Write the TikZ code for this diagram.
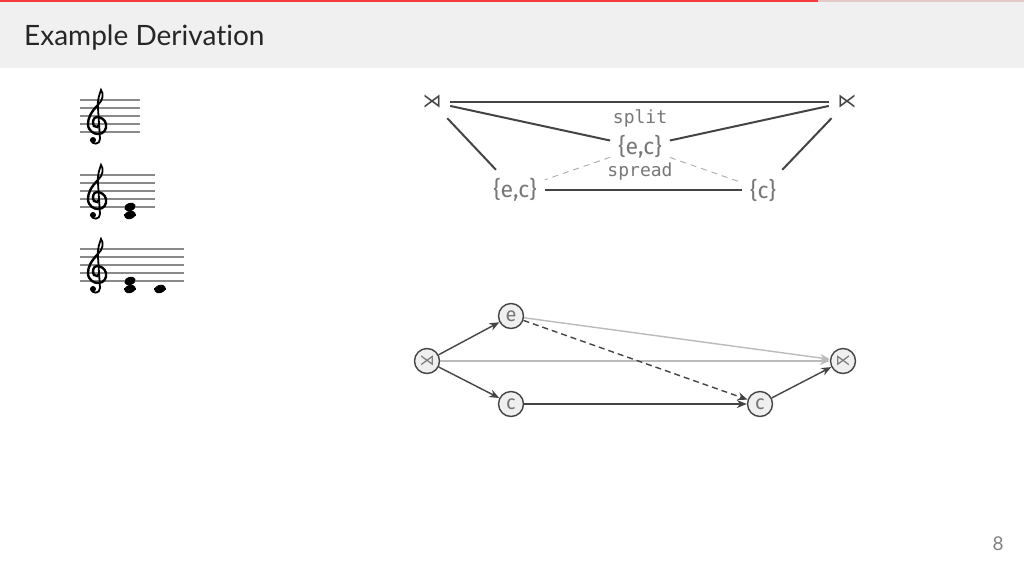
\documentclass[tikz,border=0pt]{standalone}
\usepackage{fontspec}
\setmainfont{Lato}[Ligatures={NoCommon,NoRare}]
\newfontfamily\fira{Fira Sans}
\newfontfamily\monof{DejaVu Sans Mono}
\newfontfamily\djv{DejaVu Sans}
\usetikzlibrary{arrows.meta}
\definecolor{hdrgray}{HTML}{F0F0F0}
\definecolor{hdrred}{HTML}{F53B3B}
\definecolor{hdrpink}{HTML}{E6CACA}
\definecolor{ink}{HTML}{444444}
\definecolor{txtgray}{HTML}{777777}
\definecolor{lightedge}{HTML}{BBBBBB}
\definecolor{dashgray}{HTML}{AAAAAA}
\definecolor{stafgray}{HTML}{8A8A8A}
\definecolor{nodefill}{HTML}{EFEFEF}
\tikzset{
  fs/.style={font=\fontsize{#1}{#1}\selectfont},
  setnode/.style={inner xsep=8pt, inner ysep=0pt, minimum height=40pt, text=txtgray, font=\fira\fontsize{23}{23}\selectfont},
  endnode/.style={inner sep=0pt, minimum width=36pt, minimum height=32pt, text=ink, font=\djv\fontsize{19}{19}\selectfont},
  opline/.style={draw=ink, line width=2pt},
  spline/.style={draw=dashgray, line width=0.9pt, dash pattern=on 6pt off 5pt},
  oplabel/.style={text=txtgray, font=\monof\fontsize{18}{18}\selectfont},
  gnode/.style={circle, draw=ink, fill=nodefill, line width=1.4pt, minimum size=25pt, inner sep=0pt, text=txtgray, font=\fira\fontsize{20}{20}\selectfont},
  gsym/.style={gnode, font=\djv\fontsize{15}{15}\selectfont},
  garrow/.style={draw=ink, line width=1.4pt, -{Stealth[length=10pt,width=8pt]}},
  glight/.style={draw=lightedge, line width=1.4pt, -{Stealth[length=10pt,width=8pt]}},
  gdash/.style={garrow, dash pattern=on 6pt off 4pt},
  staffline/.style={draw=stafgray, line width=1.3pt},
  notehead/.style={fill=black},
  clef/.pic={
    \fill[black] (-4,16) circle (3);
    \draw[black, line width=1.8pt, line cap=round]
      (-6,16) .. controls (-5,21) and (3,21) .. (3,15) -- (1,-16)
      .. controls (0,-24) and (3,-31) .. (4,-34)
      .. controls (7,-30) and (6,-24) .. (1,-19);
    \draw[black, line width=2.4pt, line cap=round]
      (1,-19) .. controls (-6,-12) and (-9,-6) .. (-9,0)
      .. controls (-9,7) and (-3,10) .. (1,10)
      .. controls (7,10) and (10,5) .. (9,0)
      .. controls (8,-5) and (3,-7) .. (0,-7)
      .. controls (-4,-7) and (-5,-1) .. (-3,2)
      .. controls (-1,4) and (2,3) .. (2,1);
  }
}
\begin{document}
\begin{tikzpicture}[x=1pt,y=-1pt]
\useasboundingbox (0,0) rectangle (1024,576);
% header
\fill[hdrgray] (0,0) rectangle (1024,68);
\fill[hdrred] (0,0) rectangle (818,2);
\fill[hdrpink] (818,0) rectangle (1024,2);
\node[anchor=base west, inner sep=0pt, text=black!85, fs=28] (title) at (24,45) {Example Derivation};
\node[anchor=base, inner sep=0pt, text=black!50, fs=19] (pagenum) at (998,550) {8};

% staves
\foreach \y in {100,108,116,124,132} \draw[staffline] (80,\y) -- (140,\y);
\pic at (97,124) {clef};
\foreach \y in {175,183,191,199,207} \draw[staffline] (80,\y) -- (155,\y);
\pic at (97,199) {clef};
\draw[black, line width=1.2pt] (124,215) -- (136,215);
\fill[notehead, rotate around={20:(130,207)}] (130,207) ellipse (5.8 and 4);
\fill[notehead, rotate around={20:(130,215)}] (130,215) ellipse (5.8 and 4);
\foreach \y in {249,257,265,273,281} \draw[staffline] (80,\y) -- (184,\y);
\pic at (97,273) {clef};
\draw[black, line width=1.2pt] (124,289) -- (136,289);
\draw[black, line width=1.2pt] (154,289) -- (166,289);
\fill[notehead, rotate around={20:(130,281)}] (130,281) ellipse (5.8 and 4);
\fill[notehead, rotate around={20:(130,289)}] (130,289) ellipse (5.8 and 4);
\fill[notehead, rotate around={20:(160,289)}] (160,289) ellipse (5.8 and 4);

% top derivation diagram
\node[endnode] (L) at (432,102) {⋊};
\node[endnode] (R) at (847,102) {⋉};
\node[setnode] (mid) at (640,147) {\{e,c\}};
\node[setnode] (left) at (515,190) {\{e,c\}};
\node[setnode] (right) at (763,190) {\{c\}};
\node[oplabel] (split) at (640,118) {split};
\node[oplabel] (spread) at (640,172) {spread};
\draw[opline] (L.east) -- (R.west);
\draw[opline] (L) -- (mid);
\draw[opline] (mid) -- (R);
\draw[opline] (L) -- (left);
\draw[opline] (left) -- (right);
\draw[opline] (right) -- (R);
\draw[spline] (mid) -- (left);
\draw[spline] (mid) -- (right);

% bottom graph
\node[gsym] (gL) at (427,361) {⋊};
\node[gnode] (ge) at (511,316) {e};
\node[gnode] (gc) at (511,404) {c};
\node[gnode] (gc2) at (760,404) {c};
\node[gsym] (gR) at (843,361) {⋉};
\draw[glight] (gL) -- (gR);
\draw[glight] (ge) -- (gR);
\draw[garrow] (gL) -- (ge);
\draw[garrow] (gL) -- (gc);
\draw[garrow] (gc) -- (gc2);
\draw[garrow] (gc2) -- (gR);
\draw[gdash] (ge) -- (gc2);
\end{tikzpicture}
\end{document}
